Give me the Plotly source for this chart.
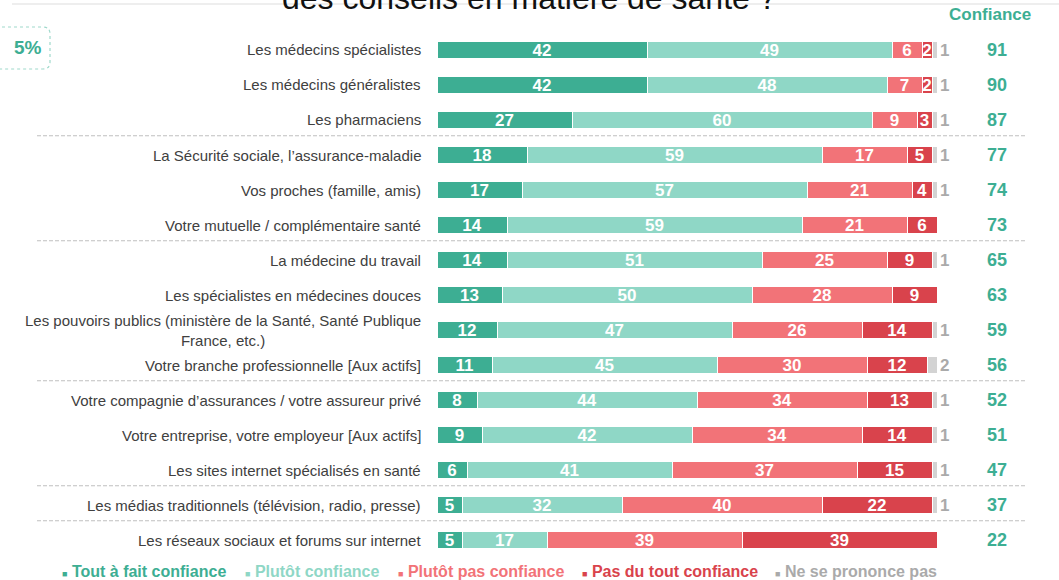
import plotly.graph_objects as go

categories = [
    "Les médecins spécialistes",
    "Les médecins généralistes",
    "Les pharmaciens",
    "La Sécurité sociale, l’assurance-maladie",
    "Vos proches (famille, amis)",
    "Votre mutuelle / complémentaire santé",
    "La médecine du travail",
    "Les spécialistes en médecines douces",
    "Les pouvoirs publics (ministère de la Santé, Santé Publique<br>France, etc.)",
    "Votre branche professionnelle [Aux actifs]",
    "Votre compagnie d’assurances / votre assureur privé",
    "Votre entreprise, votre employeur [Aux actifs]",
    "Les sites internet spécialisés en santé",
    "Les médias traditionnels (télévision, radio, presse)",
    "Les réseaux sociaux et forums sur internet",
]
series_names = ["Tout à fait confiance", "Plutôt confiance", "Plutôt pas confiance",
                "Pas du tout confiance", "Ne se prononce pas"]
tout_a_fait = [42, 42, 27, 18, 17, 14, 14, 13, 12, 11, 8, 9, 6, 5, 5]
plutot = [49, 48, 60, 59, 57, 59, 51, 50, 47, 45, 44, 42, 41, 32, 17]
plutot_pas = [6, 7, 9, 17, 21, 21, 25, 28, 26, 30, 34, 34, 37, 40, 39]
pas_du_tout = [2, 2, 3, 5, 4, 6, 9, 9, 14, 12, 13, 14, 15, 22, 39]
nsp = [1, 1, 1, 1, 1, 0, 1, 0, 1, 2, 1, 1, 1, 1, 0]
confiance = [91, 90, 87, 77, 74, 73, 65, 63, 59, 56, 52, 51, 47, 37, 22]
separators_after = [2, 5, 9, 12, 13]
title_text = "des conseils en matière de santé ?"
confiance_header = "Confiance"
box_text = "5%"

colors = ["#3DAE93", "#8FD7C6", "#F27378", "#D9434C", "#D3D3D3"]
text_colors = ["#3DAE93", "#8FD7C6", "#F27378", "#D9434C", "#AAAAAA"]
FONT = "Arial, Liberation Sans, sans-serif"

W, H = 1059, 580
def px(p):
    return p / W
def py(p):
    return 1 - p / H

fig = go.Figure()
all_series = [tout_a_fait, plutot, plutot_pas, pas_du_tout, nsp]
for i, (name, vals) in enumerate(zip(series_names, all_series)):
    xs = [v if v else None for v in vals]
    txt = [str(v) if v else "" for v in vals]
    common = dict(
        y=categories, x=xs, orientation="h", name=name,
        marker=dict(color=colors[i], line=dict(color="white", width=1)),
        text=txt, textangle=0, texttemplate="<b>%{text}</b>",
        cliponaxis=False, hoverinfo="skip",
    )
    if i < 4:
        fig.add_trace(go.Bar(**common, textposition="inside", insidetextanchor="middle",
                             textfont=dict(color="white", size=17, family=FONT)))
    else:
        fig.add_trace(go.Bar(**common, textposition="outside",
                             textfont=dict(color=text_colors[i], size=17, family=FONT)))

annotations = []
for cat, conf in zip(categories, confiance):
    annotations.append(dict(
        x=px(423), xref="paper", y=cat, yref="y", xanchor="right", yanchor="middle",
        text=cat, showarrow=False, align="center",
        font=dict(size=15, color="#404040", family=FONT)))
    annotations.append(dict(
        x=px(997), xref="paper", y=cat, yref="y", xanchor="center", yanchor="middle",
        text=f"<b>{conf}</b>", showarrow=False,
        font=dict(size=18, color="#3DAE93", family=FONT)))

annotations.append(dict(x=px(990), xref="paper", y=py(15), yref="paper",
                        xanchor="center", yanchor="middle",
                        text=f"<b>{confiance_header}</b>", showarrow=False,
                        font=dict(size=17, color="#3DAE93", family=FONT)))
annotations.append(dict(x=px(529), xref="paper", y=py(-2), yref="paper",
                        xanchor="center", yanchor="middle",
                        text=title_text, showarrow=False,
                        font=dict(size=32, color="#111111", family=FONT)))
annotations.append(dict(x=px(12), xref="paper", y=py(48), yref="paper",
                        xanchor="left", yanchor="middle",
                        text=f"<b>{box_text}</b>", showarrow=False,
                        font=dict(size=19, color="#3DAE93", family=FONT)))

legend_x = [60, 243, 396, 580, 773]
for name, lx, tc in zip(series_names, legend_x, text_colors):
    annotations.append(dict(
        x=px(lx), xref="paper", y=py(571), yref="paper", xanchor="left", yanchor="middle",
        text=f"<span style='font-size:9px'>■</span> <b>{name}</b>", showarrow=False,
        font=dict(size=16, color=tc, family=FONT)))

shapes = []
for idx in separators_after:
    shapes.append(dict(type="line", xref="paper", yref="y",
                       x0=px(37), x1=px(1027), y0=idx + 0.45, y1=idx + 0.45,
                       line=dict(color="#BFBFBF", width=1, dash="4px,2px")))
shapes.append(dict(type="line", xref="paper", yref="paper",
                   x0=px(12), x1=1, y0=py(4), y1=py(4),
                   line=dict(color="#DDDDDD", width=1), layer="below"))
# rounded dotted box
x0, x1, y0, y1, r = px(-10), px(50), py(27), py(69), 7
rx, ry = r / W, r / H
path = (f"M {x0},{y0} L {x1 - rx},{y0} Q {x1},{y0} {x1},{y0 - ry} "
        f"L {x1},{y1 + ry} Q {x1},{y1} {x1 - rx},{y1} L {x0},{y1}")
shapes.append(dict(type="path", xref="paper", yref="paper", path=path,
                   line=dict(color="#9FD9CB", width=1.2, dash="dot")))

fig.update_layout(
    width=W, height=H, autosize=False,
    margin=dict(l=0, r=0, t=0, b=0, pad=0),
    paper_bgcolor="white", plot_bgcolor="white",
    barmode="stack", bargap=0.52, showlegend=False,
    uniformtext=dict(minsize=17, mode="show"),
    xaxis=dict(domain=[px(437), px(937)], range=[0, 100], visible=False, fixedrange=True),
    yaxis=dict(domain=[py(557.5), py(32.5)], autorange=False, range=[14.5, -0.5],
               type="category", categoryorder="array", categoryarray=categories,
               visible=False, fixedrange=True),
    annotations=annotations, shapes=shapes,
    font=dict(family=FONT),
)

fig.write_html("out.html", config={"displayModeBar": False},
               post_script="document.body.style.margin='0';document.body.style.overflow='hidden';")
